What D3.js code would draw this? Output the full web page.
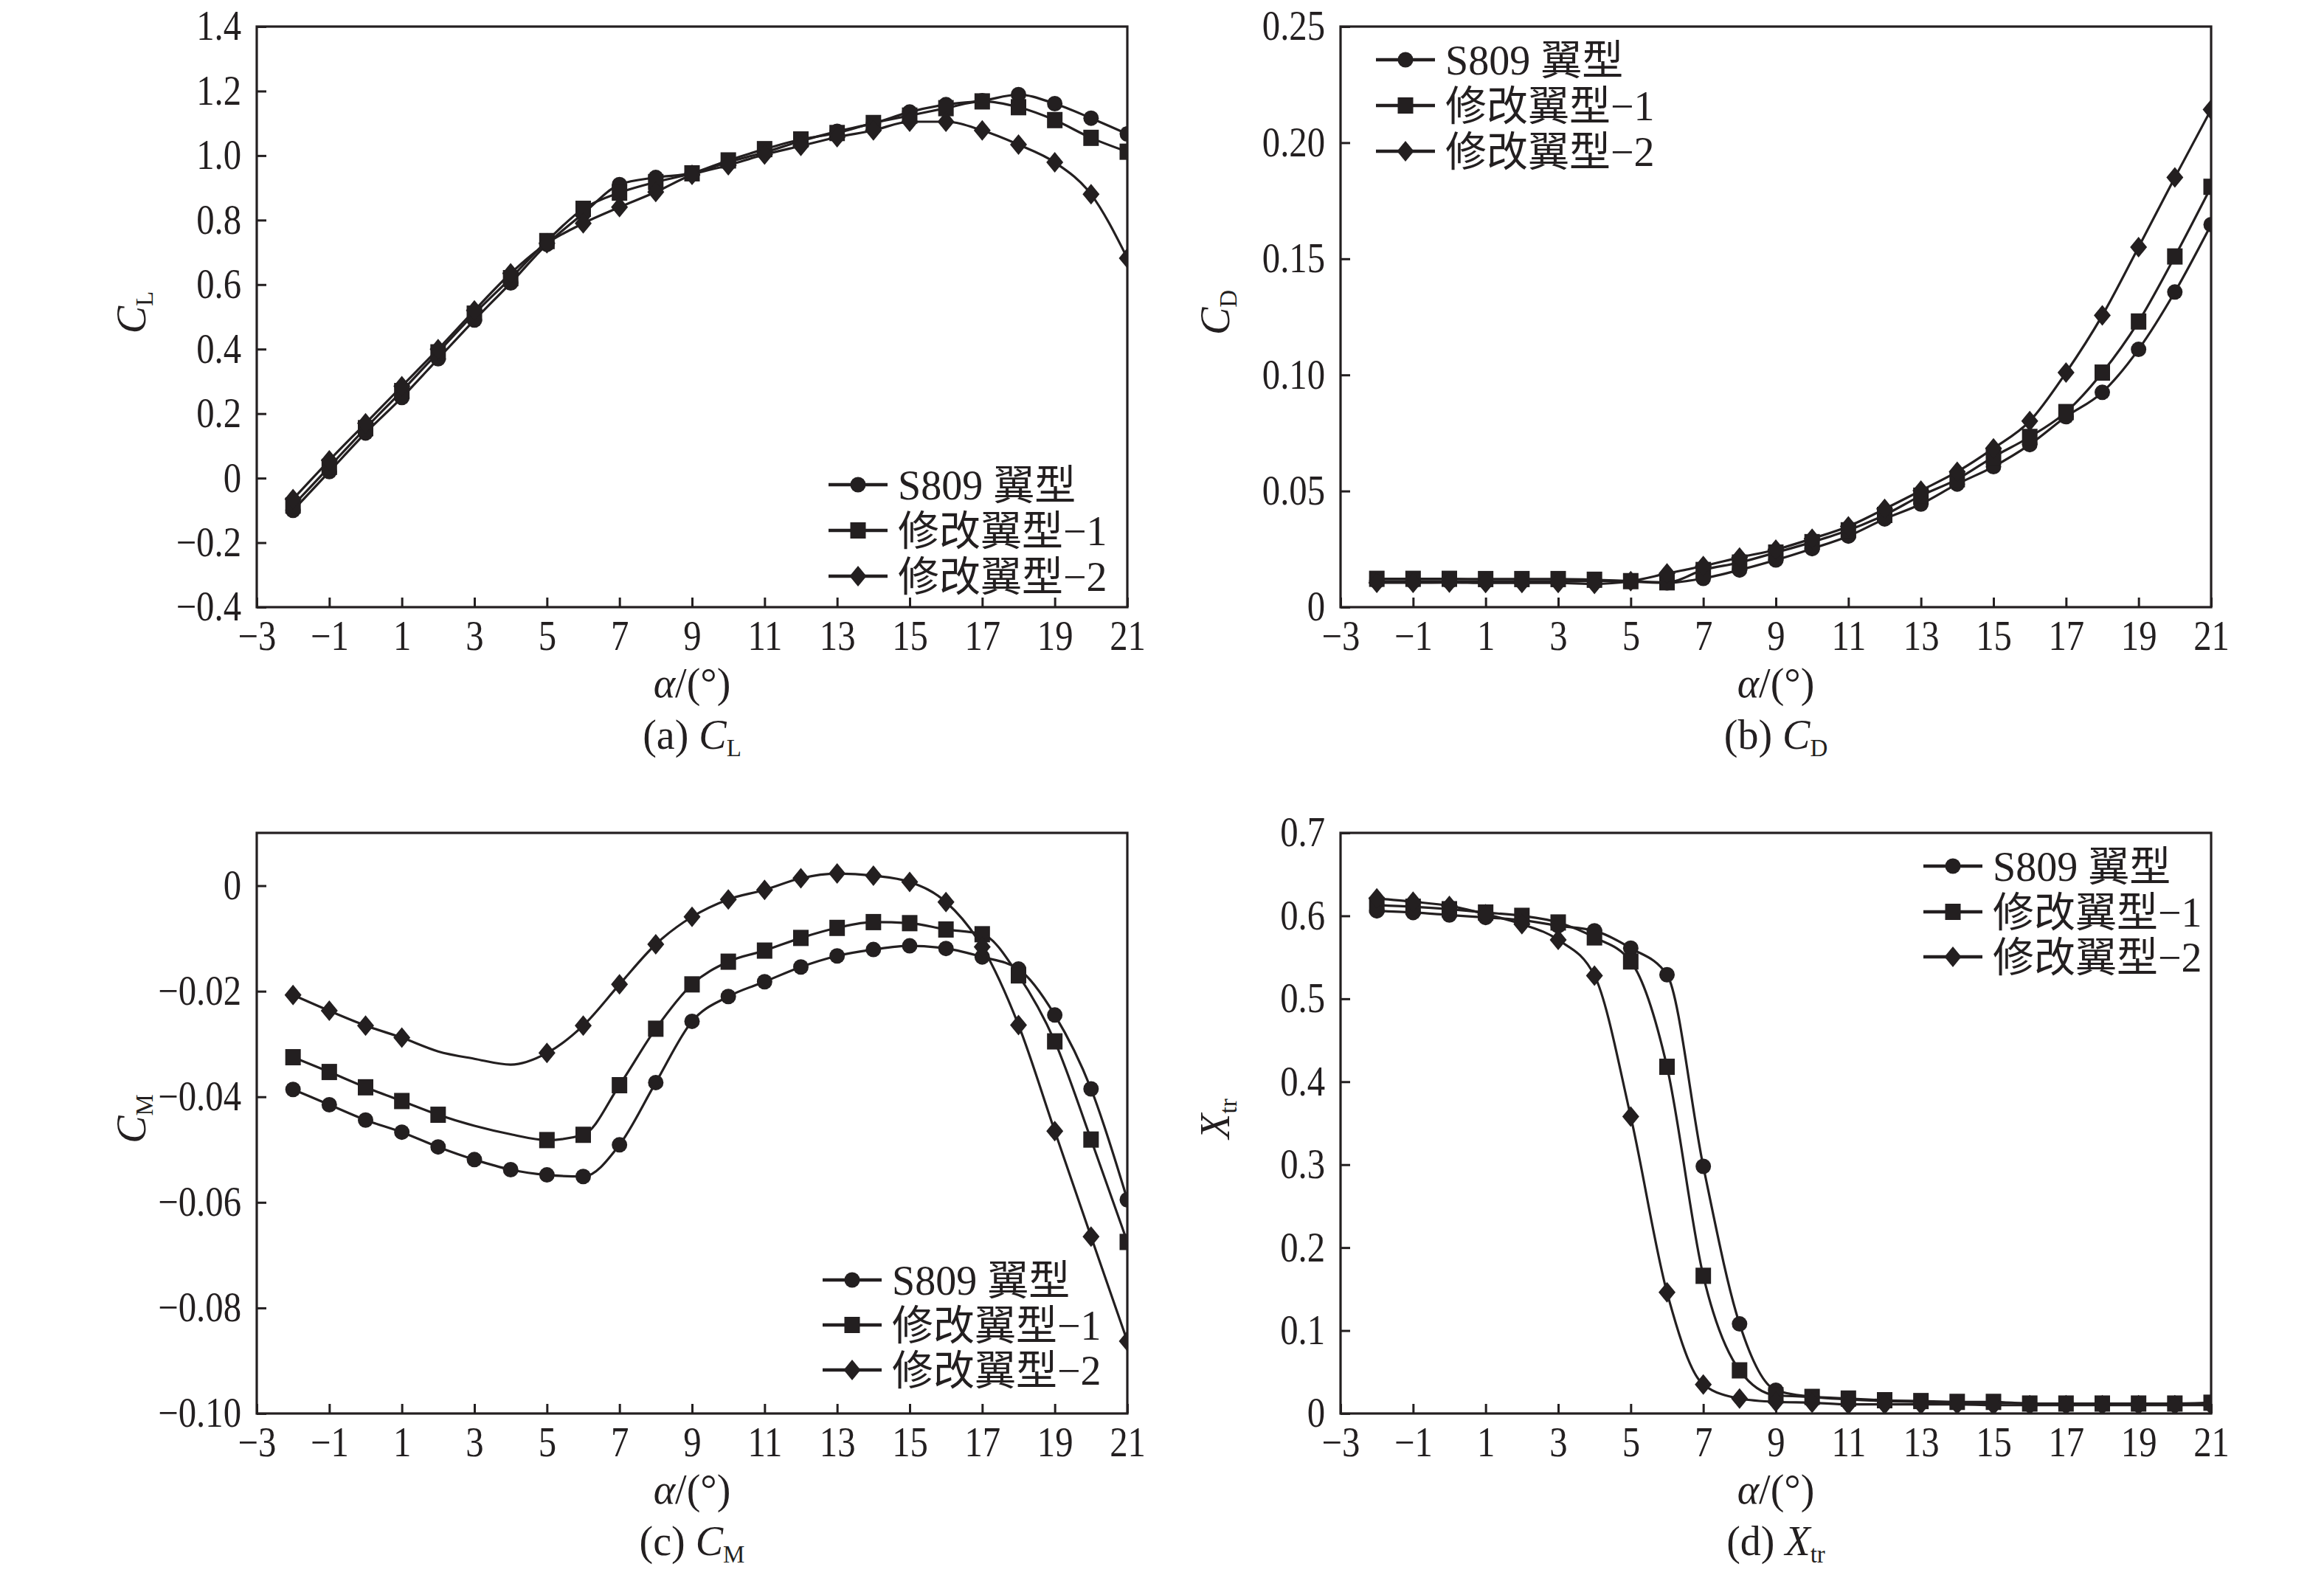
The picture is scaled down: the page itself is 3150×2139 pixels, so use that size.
<!DOCTYPE html>
<html><head><meta charset="utf-8">
<script src="https://cdn.jsdelivr.net/npm/d3@7"></script>
<style>body{margin:0;background:#fff}</style>
</head><body>
<script>
// ---------- data ----------
const alphaDeg = [-2,-1,0,1,2,3,4,5,6,7,8,9,10,11,12,13,14,15,16,17,18,19,20,21];
const seriesNames = ["S809 翼型", "修改翼型−1", "修改翼型−2"];
const xTickValues = [-3,-1,1,3,5,7,9,11,13,15,17,19,21];
const clTicks = [-0.4,-0.2,0,0.2,0.4,0.6,0.8,1.0,1.2,1.4];
const cdTicks = [0,0.05,0.10,0.15,0.20,0.25];
const cmTicks = [-0.10,-0.08,-0.06,-0.04,-0.02,0];
const xtrTicks = [0,0.1,0.2,0.3,0.4,0.5,0.6,0.7];

const clS809 = [-0.100,0.020,0.140,0.250,0.370,0.490,0.605,0.725,0.820,0.910,0.932,0.945,0.980,1.010,1.045,1.075,1.100,1.135,1.158,1.170,1.189,1.161,1.116,1.067];
const clMod1 = [-0.085,0.035,0.155,0.270,0.390,0.510,0.620,0.735,0.835,0.885,0.918,0.945,0.985,1.020,1.050,1.070,1.101,1.124,1.147,1.168,1.150,1.110,1.055,1.012];
const clMod2 = [-0.065,0.055,0.170,0.285,0.400,0.520,0.635,0.728,0.790,0.840,0.887,0.940,0.970,1.003,1.030,1.057,1.078,1.105,1.105,1.078,1.034,0.979,0.880,0.682];

const cdS809 = [0.0112,0.0112,0.0112,0.0112,0.0112,0.0112,0.0113,0.0110,0.0105,0.0124,0.0160,0.0203,0.0252,0.0306,0.0380,0.0444,0.0530,0.0605,0.0700,0.0820,0.0925,0.1110,0.1357,0.1647];
const cdMod1 = [0.0122,0.0122,0.0122,0.0121,0.0121,0.0121,0.0118,0.0112,0.0107,0.0160,0.0192,0.0235,0.0280,0.0331,0.0397,0.0480,0.0551,0.0647,0.0733,0.0840,0.1010,0.1230,0.1510,0.1810];
const cdMod2 = [0.0105,0.0105,0.0106,0.0104,0.0104,0.0104,0.0100,0.0112,0.0145,0.0177,0.0214,0.0248,0.0295,0.0348,0.0423,0.0502,0.0583,0.0684,0.0801,0.1010,0.1256,0.1550,0.1850,0.2143];

const cmS809 = [-0.0386,-0.0415,-0.0444,-0.0467,-0.0495,-0.0519,-0.0538,-0.0548,-0.0551,-0.0491,-0.0373,-0.0257,-0.0210,-0.0182,-0.0154,-0.0133,-0.0121,-0.0114,-0.0119,-0.0135,-0.0158,-0.0245,-0.0385,-0.0595];
const cmMod1 = [-0.0325,-0.0353,-0.0382,-0.0408,-0.0434,-0.0455,-0.0471,-0.0482,-0.0472,-0.0378,-0.0271,-0.0187,-0.0144,-0.0123,-0.0099,-0.0080,-0.0069,-0.0071,-0.0083,-0.0092,-0.0170,-0.0295,-0.0481,-0.0675];
const cmMod2 = [-0.0207,-0.0237,-0.0265,-0.0288,-0.0314,-0.0328,-0.0339,-0.0317,-0.0265,-0.0187,-0.0111,-0.0059,-0.0026,-0.0008,0.0014,0.0023,0.0019,0.0007,-0.0031,-0.0116,-0.0264,-0.0465,-0.0665,-0.0863];
// angles whose points are on the curve but carry no marker
const cmMod1Unmarked = [3,4];
const cmMod2Unmarked = [2,3,4];

const xtrS809 = [0.606,0.604,0.601,0.598,0.595,0.588,0.582,0.561,0.529,0.298,0.108,0.028,0.020,0.017,0.015,0.014,0.013,0.013,0.012,0.012,0.012,0.012,0.012,0.012];
const xtrMod1 = [0.613,0.611,0.608,0.604,0.600,0.592,0.574,0.545,0.418,0.166,0.052,0.022,0.020,0.018,0.016,0.015,0.014,0.014,0.012,0.012,0.012,0.012,0.012,0.013];
const xtrMod2 = [0.621,0.617,0.612,0.602,0.590,0.571,0.528,0.358,0.146,0.035,0.018,0.014,0.013,0.011,0.011,0.011,0.011,0.010,0.010,0.010,0.010,0.010,0.010,0.010];

// ---------- drawing ----------
const INK = "#231f20";
const LATIN = "'Liberation Serif','Times New Roman',serif";
const MIXED = "'Liberation Serif','Noto Sans CJK SC',serif";
const W = 3150, H = 2139;
const svg = d3.select("body").append("svg").attr("width", W).attr("height", H)
  .style("background", "#fff");

const minus = s => s.replace(/-/g, "−");
const fmtCL = d => d === 0 ? "0" : minus(d3.format(".1f")(d));
const fmtCD = d => d === 0 ? "0" : d3.format(".2f")(d);
const fmtCM = d => d === 0 ? "0" : minus(d3.format(".2f")(d));
const fmtX1 = d => d === 0 ? "0" : d3.format(".1f")(d);

const panels = [
  {id:"a", x0:348, x1:1528, y0:36, y1:823, yDomain:[-0.4,1.4], yTicks:clTicks, fmt:fmtCL,
   series:[clS809, clMod1, clMod2], unmarked:[[],[],[]], ylab:["C","L"], cap:"(a) ",
   leg:{x:1123, y:[657,719,781]}},
  {id:"b", x0:1817, x1:2997, y0:36, y1:823, yDomain:[0,0.25], yTicks:cdTicks, fmt:fmtCD,
   series:[cdS809, cdMod1, cdMod2], unmarked:[[],[],[]], ylab:["C","D"], cap:"(b) ",
   leg:{x:1865, y:[81,143,205]}},
  {id:"c", x0:348, x1:1528, y0:1129, y1:1916, yDomain:[-0.10,0.01], yTicks:cmTicks, fmt:fmtCM,
   series:[cmS809, cmMod1, cmMod2], unmarked:[[], cmMod1Unmarked, cmMod2Unmarked], ylab:["C","M"], cap:"(c) ",
   leg:{x:1115, y:[1735,1796,1857]}},
  {id:"d", x0:1817, x1:2997, y0:1129, y1:1916, yDomain:[0,0.7], yTicks:xtrTicks, fmt:fmtX1,
   series:[xtrS809, xtrMod1, xtrMod2], unmarked:[[],[],[]], ylab:["X","tr"], cap:"(d) ",
   leg:{x:2607, y:[1174,1236,1297]}}
];

const markerSymbols = ["circle", "square", "diamond"];
function drawMarker(g, type, cx, cy) {
  if (type === "circle") {
    g.append("circle").attr("cx", cx).attr("cy", cy).attr("r", 10.5).attr("fill", INK);
  } else if (type === "square") {
    g.append("rect").attr("x", cx - 10.5).attr("y", cy - 11).attr("width", 21).attr("height", 22).attr("fill", INK);
  } else {
    g.append("path").attr("d", `M${cx},${cy-14}L${cx+11.5},${cy}L${cx},${cy+14}L${cx-11.5},${cy}Z`).attr("fill", INK);
  }
}

const TICK_FS = 56, SX = 0.87;

panels.forEach(p => {
  const x = d3.scaleLinear().domain([-3, 21]).range([p.x0, p.x1]);
  const y = d3.scaleLinear().domain(p.yDomain).range([p.y1, p.y0]);
  const g = svg.append("g");

  const clipId = "clip-" + p.id;
  svg.append("clipPath").attr("id", clipId).append("rect")
    .attr("x", p.x0).attr("y", p.y0).attr("width", p.x1 - p.x0).attr("height", p.y1 - p.y0);

  // axes
  const xa = g.append("g").attr("transform", `translate(0,${p.y1})`)
    .call(d3.axisBottom(x).tickValues(xTickValues).tickSizeInner(-13).tickSizeOuter(0)
      .tickPadding(18).tickFormat(d => minus(String(d))));
  const ya = g.append("g").attr("transform", `translate(${p.x0},0)`)
    .call(d3.axisLeft(y).tickValues(p.yTicks).tickSizeInner(-13).tickSizeOuter(0)
      .tickPadding(21 / SX).tickFormat(p.fmt));
  [xa, ya].forEach(a => {
    a.select(".domain").remove();
    a.selectAll(".tick line").attr("stroke", INK).attr("stroke-width", 3);
    a.selectAll(".tick text").attr("fill", INK).attr("font-family", LATIN)
      .attr("font-size", TICK_FS).attr("transform", `scale(${SX},1)`);
  });
  ya.selectAll(".tick text").attr("x", -21 / SX);

  // frame
  g.append("rect").attr("x", p.x0).attr("y", p.y0).attr("width", p.x1 - p.x0).attr("height", p.y1 - p.y0)
    .attr("fill", "none").attr("stroke", INK).attr("stroke-width", 3.2);

  // series
  const plot = g.append("g").attr("clip-path", `url(#${clipId})`);
  const line = d3.line().x(d => x(d.a)).y(d => y(d.v)).curve(d3.curveMonotoneX);
  p.series.forEach((vals, si) => {
    const pts = alphaDeg.map((a, i) => ({a, v: vals[i]}));
    plot.append("path").attr("d", line(pts)).attr("fill", "none")
      .attr("stroke", INK).attr("stroke-width", 3.2).attr("stroke-linejoin", "round");
    pts.filter(d => !p.unmarked[si].includes(d.a))
      .forEach(d => drawMarker(plot, markerSymbols[si], x(d.a), y(d.v)));
  });

  // legend
  const lg = g.append("g");
  seriesNames.forEach((name, i) => {
    const ly = p.leg.y[i];
    lg.append("line").attr("x1", p.leg.x).attr("x2", p.leg.x + 80).attr("y1", ly).attr("y2", ly)
      .attr("stroke", INK).attr("stroke-width", 4.5);
    drawMarker(lg, markerSymbols[i], p.leg.x + 40, ly);
    lg.append("text").attr("x", p.leg.x + 94).attr("y", ly).attr("dy", "0.35em")
      .attr("font-family", MIXED).attr("font-size", 56).attr("fill", INK).text(name);
  });

  // y label (rotated)
  const cx = p.x0 - 170, cy = (p.y0 + p.y1) / 2 - 6;
  const yl = g.append("text").attr("transform", `translate(${cx},${cy}) rotate(-90)`)
    .attr("text-anchor", "middle").attr("dy", "0.34em")
    .attr("font-family", LATIN).attr("font-size", 56).attr("fill", INK);
  yl.append("tspan").attr("font-style", "italic").text(p.ylab[0]);
  yl.append("tspan").attr("font-size", 33).attr("dy", 10).text(p.ylab[1]);

  // x label
  const xl = g.append("text").attr("x", (p.x0 + p.x1) / 2).attr("y", p.y1 + 122)
    .attr("text-anchor", "middle").attr("font-family", LATIN).attr("font-size", 56).attr("fill", INK);
  xl.append("tspan").attr("font-style", "italic").text("α");
  xl.append("tspan").text("/(°)");

  // caption
  const cp = g.append("text").attr("x", (p.x0 + p.x1) / 2).attr("y", p.y1 + 192)
    .attr("text-anchor", "middle").attr("font-family", LATIN).attr("font-size", 56).attr("fill", INK);
  cp.append("tspan").text(p.cap);
  cp.append("tspan").attr("font-style", "italic").text(p.ylab[0]);
  cp.append("tspan").attr("font-size", 33).attr("dy", 10).text(p.ylab[1]);
});
</script>
</body></html>
